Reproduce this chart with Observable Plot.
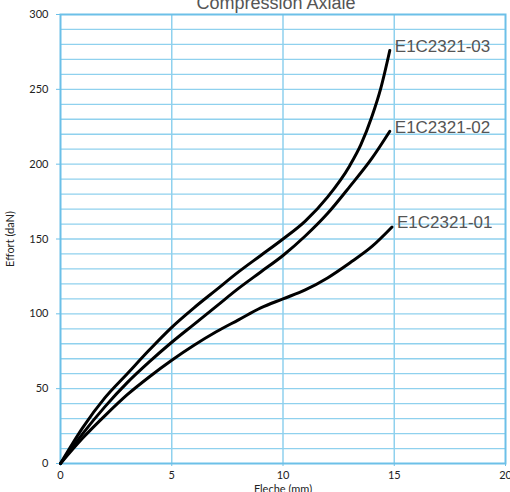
<!DOCTYPE html>
<html>
<head>
<meta charset="utf-8">
<script src="https://cdn.jsdelivr.net/npm/d3@7"></script>
<script src="https://cdn.jsdelivr.net/npm/@observablehq/plot@0.6"></script>
<style>
  html, body { margin: 0; padding: 0; background: #fff; }
  #chart { position: relative; width: 510px; height: 492px; overflow: hidden; }
</style>
</head>
<body>
<div id="chart"></div>
<script>
const title = "Compression Axiale";
const xLabel = "Fleche (mm)";
const yLabel = "Effort (daN)";
const xTicks = [0, 5, 10, 15, 20];
const yTicks = [0, 50, 100, 150, 200, 250, 300];
const yGrid = [10, 20, 30, 40, 50, 60, 70, 80, 90, 100, 110, 120, 130, 140, 150, 160, 170, 180, 190, 200, 210, 220, 230, 240, 250, 260, 270, 280, 290];
const xGrid = [5, 10, 15];

const seriesNames = ["E1C2321-03", "E1C2321-02", "E1C2321-01"];
const fleche03 = [0, 1, 2, 3, 4, 5, 6, 7, 8, 9, 10, 11, 12, 13, 13.5, 14, 14.4, 14.8];
const effort03 = [0, 24, 44, 60, 76, 91, 104, 116, 128, 139, 150, 162, 178, 199, 213, 232, 251, 276];
const fleche02 = [0, 1, 2, 3, 4, 5, 6, 7, 8, 9, 10, 11, 12, 13, 14, 14.8];
const effort02 = [0, 20, 38, 54, 68, 81, 93, 105, 117, 128, 139, 152, 167, 185, 204, 222];
const fleche01 = [0, 1, 2, 3, 4, 5, 6, 7, 8, 9, 10, 11, 12, 13, 14, 14.9];
const effort01 = [0, 17, 32, 46, 58, 69, 79, 88, 96, 104, 110, 116, 124, 134, 145, 158];

const toRows = (name, xs, ys) => xs.map((x, i) => ({name, x, y: ys[i]}));
const rows = [
  ...toRows(seriesNames[0], fleche03, effort03),
  ...toRows(seriesNames[1], fleche02, effort02),
  ...toRows(seriesNames[2], fleche01, effort01)
];
const ends = [
  {name: seriesNames[0], x: fleche03[fleche03.length - 1], y: effort03[effort03.length - 1]},
  {name: seriesNames[1], x: fleche02[fleche02.length - 1], y: effort02[effort02.length - 1]},
  {name: seriesNames[2], x: fleche01[fleche01.length - 1], y: effort01[effort01.length - 1]}
];

const gridColor = "#8fd1ee";
const frameColor = "#6cc0e8";

const chart = Plot.plot({
  width: 510,
  height: 492,
  marginLeft: 60,
  marginRight: 5,
  marginTop: 14,
  marginBottom: 29,
  style: {fontFamily: "Lato, 'Open Sans', sans-serif", fontSize: "11px", color: "#222", background: "#fff", overflow: "visible"},
  x: {domain: [0, 20]},
  y: {domain: [0, 300]},
  marks: [
    Plot.ruleY(yGrid, {stroke: gridColor, strokeWidth: 1.3}),
    Plot.ruleX(xGrid, {stroke: gridColor, strokeWidth: 1.5}),
    Plot.frame({stroke: frameColor, strokeWidth: 2}),
    Plot.axisY({ticks: yTicks, tickSize: 4, tickPadding: 8, stroke: frameColor, label: yLabel, labelAnchor: "center", labelArrow: "none", labelOffset: 54, fontSize: 11}),
    Plot.axisX({ticks: xTicks, tickSize: 3, tickPadding: 5, stroke: frameColor, label: xLabel, labelAnchor: "center", labelArrow: "none", labelOffset: 29, fontSize: 11}),
    Plot.line(rows, {x: "x", y: "y", z: "name", stroke: "#000", strokeWidth: 3, curve: "monotone-x"}),
    Plot.text(ends, {x: "x", y: "y", text: "name", textAnchor: "start", dx: 5, dy: -4, fill: "#555", fontSize: 17, fontFamily: "'Liberation Sans', Arial, sans-serif"}),
    Plot.text([title], {frameAnchor: "top", dx: -7, dy: -6, lineAnchor: "bottom", fill: "#555", fontSize: 18, fontFamily: "'Liberation Sans', Arial, sans-serif"})
  ]
});
document.getElementById("chart").appendChild(chart);
</script>
</body>
</html>
